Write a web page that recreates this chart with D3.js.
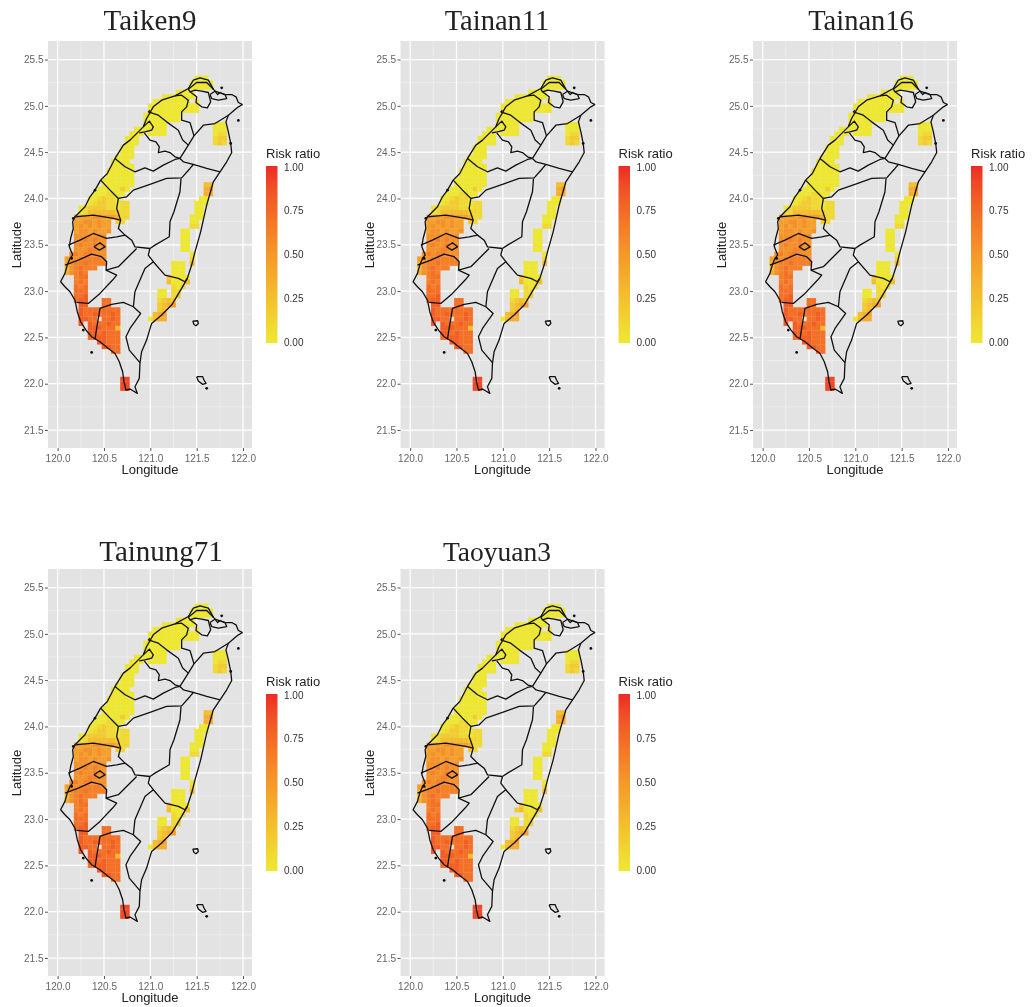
<!DOCTYPE html>
<html>
<head>
<meta charset="utf-8">
<style>
  html, body { margin: 0; padding: 0; background: #fff; }
  text { font-family: "Liberation Sans", Arial, sans-serif; }
</style>
<script src="https://cdnjs.cloudflare.com/ajax/libs/d3/7.8.5/d3.min.js"></script>
</head>
<body>
<div id="chart"></div>
<script>
// panel names
var panelNames = ["Taiken9", "Tainan11", "Tainan16", "Tainung71", "Taoyuan3"]

// axis and legend ticks
var lonTicks = [120, 120.5, 121, 121.5, 122]
var lonMinor = [120.25, 120.75, 121.25, 121.75]
var latTicks = [21.5, 22, 22.5, 23, 23.5, 24, 24.5, 25, 25.5]
var latMinor = [21.75, 22.25, 22.75, 23.25, 23.75, 24.25, 24.75, 25.25]
var riskTicks = [0, 0.25, 0.5, 0.75, 1]

// risk cells, [lat, first lon, one hex digit per 0.05 deg cell], ratio = digit * 0.09
var northRuns = [
  [25.30, 121.50, "000"], [25.25, 121.45, "00000"], [25.20, 121.45, "00000"],
  [25.15, 121.30, "0000"], [25.10, 121.15, "0000000"],
  [25.05, 121.05, "00000000"], [25.05, 121.50, "0"],
  [25.00, 121.00, "00000000000"], [24.95, 121.00, "00000000000"],
  [24.90, 120.95, "00000000"], [24.85, 120.95, "00000000"],
  [24.80, 120.95, "00000"], [24.75, 120.85, "0000000"],
  [24.70, 120.80, "000"], [24.70, 121.00, "0000"],
  [24.65, 120.75, "000"], [24.60, 120.75, "000"],
  [24.55, 120.70, "000"], [24.50, 120.70, "000"],
  [24.45, 120.65, "0000"], [24.40, 120.60, "0000"], [24.35, 120.60, "00000"],
  [24.30, 120.55, "000000"], [24.25, 120.55, "000000"],
  [24.20, 120.50, "0000000"], [24.15, 120.50, "0000000"]
]
var centralRuns = [
  [24.10, 120.45, "0000020"], [24.05, 120.40, "0001100"],
  [24.00, 120.35, "0012110"], [23.95, 120.35, "012211011"],
  [23.90, 120.25, "01222211011"], [23.85, 120.25, "01333333211"],
  [23.80, 120.20, "555566555411"],
  [23.75, 120.20, "55665655"], [23.75, 120.65, "21"],
  [23.70, 120.20, "56565655"], [23.65, 120.20, "56656556"],
  [23.60, 120.20, "6666666"], [23.55, 120.20, "6676766"],
  [23.50, 120.20, "6766766"], [23.45, 120.20, "6667766"],
  [23.40, 120.15, "67677666"], [23.35, 120.10, "566777776"],
  [23.30, 120.10, "467787777"], [23.25, 120.10, "3678777"],
  [23.20, 120.10, "46787"]
]
var southRuns = [
  [23.15, 120.20, "788"], [23.10, 120.20, "787"], [23.05, 120.20, "878"],
  [23.00, 120.20, "888"], [22.95, 120.20, "889"],
  [22.90, 120.20, "899"], [22.90, 120.50, "88"],
  [22.85, 120.25, "99"], [22.85, 120.50, "88"],
  [22.80, 120.25, "988888888"], [22.75, 120.25, "988988898"],
  [22.70, 120.25, "9988"], [22.70, 120.50, "8898"],
  [22.65, 120.25, "9"], [22.65, 120.35, "9888988"],
  [22.60, 120.35, "9998883"], [22.55, 120.35, "9989888"],
  [22.50, 120.35, "8999888"], [22.45, 120.45, "99888"],
  [22.40, 120.50, "9988"], [22.35, 120.60, "88"],
  [22.05, 120.70, "aa"], [22.00, 120.70, "aa"], [21.95, 120.70, "aa"]
]
var eastRuns = [
  [24.80, 121.70, "000"], [24.75, 121.70, "000"], [24.70, 121.70, "011"],
  [24.65, 121.70, "122"], [24.60, 121.70, "121"],
  [24.15, 121.60, "33"], [24.10, 121.60, "45"], [24.05, 121.60, "44"],
  [24.00, 121.55, "00"], [23.95, 121.50, "000"], [23.90, 121.50, "00"],
  [23.85, 121.50, "00"], [23.80, 121.45, "000"], [23.75, 121.45, "00"],
  [23.70, 121.45, "11"], [23.65, 121.35, "00"], [23.60, 121.35, "00"],
  [23.55, 121.35, "00"], [23.50, 121.35, "00"], [23.45, 121.35, "00"],
  [23.40, 121.45, "0"], [23.35, 121.45, "1"],
  [23.30, 121.25, "000"], [23.30, 121.45, "3"],
  [23.25, 121.25, "000"], [23.20, 121.25, "000"],
  [23.15, 121.20, "20000"], [23.10, 121.20, "30003"],
  [23.05, 121.25, "101"], [23.00, 121.10, "00"], [23.00, 121.25, "11"],
  [22.95, 121.10, "00"], [22.95, 121.25, "12"],
  [22.90, 121.10, "1232"], [22.85, 121.10, "2345"],
  [22.80, 121.10, "23"], [22.75, 121.05, "345"], [22.70, 121.00, "0344"]
]

// cells only some panels have
var tainan11Runs = [[24.65, 120.90, "0"], [24.60, 120.90, "0"]]
var taoyuan3Runs = [[24.65, 120.90, "0"], [24.60, 120.90, "0"], [23.10, 121.15, "2"]]

// coast and county lines, [lon, lat]
var coast = [
  [121.996,25.014],[121.950,25.036],[121.924,25.097],[121.878,25.122],[121.806,25.122],[121.752,25.144],
  [121.727,25.122],[121.680,25.180],[121.626,25.277],[121.536,25.302],[121.464,25.277],[121.410,25.187],
  [121.266,25.108],[121.122,25.061],[121.032,24.989],[120.960,24.863],[120.924,24.773],[120.781,24.630],
  [120.709,24.576],[120.619,24.432],[120.536,24.270],[120.464,24.198],[120.403,24.090],[120.349,24.018],
  [120.295,23.910],[120.223,23.838],[120.187,23.802],[120.162,23.748],[120.169,23.676],[120.140,23.568],
  [120.126,23.478],[120.162,23.389],[120.133,23.353],[120.104,23.281],[120.079,23.191],[120.032,23.101],
  [120.079,23.047],[120.133,22.993],[120.187,22.903],[120.212,22.777],[120.248,22.669],[120.306,22.579],
  [120.367,22.507],[120.457,22.453],[120.547,22.381],[120.619,22.327],[120.665,22.237],[120.701,22.130],
  [120.716,22.022],[120.737,21.932],[120.781,21.943],[120.817,21.921],[120.860,21.896],[120.834,21.968],
  [120.881,22.058],[120.888,22.219],[120.906,22.345],[120.960,22.471],[121.014,22.651],[121.122,22.741],
  [121.230,22.849],[121.338,23.029],[121.399,23.137],[121.446,23.281],[121.482,23.424],[121.543,23.640],
  [121.608,23.928],[121.644,24.054],[121.680,24.180],[121.752,24.288],[121.824,24.396],[121.878,24.496],
  [121.867,24.594],[121.842,24.719],[121.816,24.827],[121.842,24.899],[121.950,24.989],[121.996,25.014]
]
var islands = [
  [[121.457,22.676],[121.511,22.680],[121.518,22.651],[121.493,22.626],[121.471,22.640],[121.457,22.676]],
  [[121.500,22.076],[121.565,22.076],[121.579,22.040],[121.601,22.004],[121.565,21.993],[121.518,22.029],[121.500,22.076]],
  [[120.392,23.478],[120.457,23.522],[120.511,23.478],[120.450,23.442],[120.392,23.478]]
]
var counties = [
  [[121.410,25.180],[121.500,25.252],[121.608,25.252],[121.680,25.180]],
  [[121.410,25.180],[121.428,25.151],[121.500,25.097],[121.493,25.036],[121.554,24.989],[121.615,24.978],[121.651,25.043],[121.626,25.144],[121.554,25.158],[121.482,25.169],[121.428,25.151]],
  [[121.644,25.122],[121.698,25.158],[121.806,25.122],[121.824,25.079],[121.734,25.061],[121.662,25.079],[121.644,25.122]],
  [[121.266,25.108],[121.338,25.115],[121.410,25.061],[121.392,24.989],[121.338,24.935],[121.338,24.845],[121.428,24.820],[121.471,24.676]],
  [[121.842,24.899],[121.698,24.809],[121.572,24.791],[121.471,24.676],[121.410,24.576],[121.320,24.432]],
  [[121.320,24.432],[121.356,24.396],[121.464,24.367],[121.608,24.324],[121.752,24.288]],
  [[120.996,24.953],[120.978,24.935],[121.086,24.899],[121.176,24.827],[121.302,24.737],[121.349,24.630],[121.410,24.576]],
  [[120.924,24.773],[120.989,24.835],[121.032,24.773],[121.014,24.737],[120.942,24.719],[120.881,24.709]],
  [[120.935,24.709],[120.996,24.630],[121.061,24.612],[121.097,24.558],[121.086,24.496],[121.158,24.511],[121.212,24.496],[121.266,24.450],[121.320,24.432]],
  [[120.619,24.432],[120.727,24.342],[120.834,24.288],[120.942,24.331],[121.032,24.295],[121.140,24.360],[121.266,24.421],[121.320,24.432]],
  [[120.464,24.198],[120.565,24.090],[120.655,24.000]],
  [[120.655,24.000],[120.745,24.018],[120.817,24.090],[120.996,24.151],[121.176,24.216],[121.338,24.223],[121.428,24.324],[121.464,24.367]],
  [[120.655,24.000],[120.637,23.892],[120.680,23.766],[120.655,23.676],[120.727,23.604],[120.799,23.550],[120.834,23.478],[120.996,23.460]],
  [[120.996,23.460],[121.050,23.496],[121.205,23.586],[121.212,23.748],[121.255,23.856],[121.320,24.072],[121.331,24.216]],
  [[120.187,23.802],[120.385,23.820],[120.601,23.784],[120.680,23.766]],
  [[120.115,23.496],[120.241,23.550],[120.385,23.622],[120.529,23.568],[120.637,23.586],[120.727,23.604]],
  [[120.079,23.281],[120.223,23.335],[120.367,23.399],[120.475,23.371],[120.529,23.317],[120.522,23.227],[120.655,23.263],[120.852,23.460]],
  [[120.522,23.227],[120.637,23.173],[120.593,23.119],[120.457,22.975],[120.331,22.867],[120.205,22.878]],
  [[120.403,22.482],[120.421,22.597],[120.457,22.813],[120.583,22.856],[120.709,22.878],[120.817,22.831],[120.896,22.759],[120.781,22.597],[120.737,22.507],[120.773,22.363],[120.888,22.227]],
  [[120.817,22.831],[120.834,22.993],[120.942,23.245],[121.032,23.317],[120.978,23.389],[120.996,23.460]],
  [[121.032,23.317],[121.158,23.173],[121.302,23.137],[121.374,23.101],[121.399,23.137]]
]
var islets = [
  [121.950,24.842],[121.770,25.194],[121.867,24.594],[120.367,22.338],[121.608,21.950],
  [120.403,24.090],[120.169,23.784],[120.151,23.353],[120.277,22.579]
]

var width = 1032,
    height = 1007,
    dx = 352.5,
    dy = 528

// title centres, baselines and sizes differ per panel
var titleX = [150, 497, 861, 161, 497]
var titleY = [30, 30, 30, 33, 33]
var titleSize = [29, 28.5, 28.5, 29, 27.5]

var svg = d3.select("#chart")
    .append("svg")
    .attr("width", width)
    .attr("height", height)
    .style("display", "block")

var defs = svg.append("defs")

var blur = defs.append("filter")
    .attr("id", "soft")
    .attr("filterUnits", "userSpaceOnUse")
    .attr("x", 0).attr("y", 0)
    .attr("width", width).attr("height", height)
blur.append("feGaussianBlur").attr("stdDeviation", 0.4)

var color = d3.scaleLinear()
    .domain([0, 1])
    .range(["#eee733", "#ee2a24"])
    .interpolate(d3.interpolateLab)

var legendGrad = defs.append("linearGradient")
    .attr("id", "riskGrad")
    .attr("x1", 0).attr("x2", 0)
    .attr("y1", 1).attr("y2", 0)
legendGrad.selectAll("stop")
    .data(d3.range(0, 1.01, 0.1))
    .enter()
    .append("stop")
    .attr("offset", function (d) { return d })
    .attr("stop-color", function (d) { return color(d) })

// turn runs into cells
function toCells(runs) {
    var out = []
    runs.forEach(function (run) {
        run[2].split("").forEach(function (c, i) {
            out.push({ lat: run[0], lon: run[1] + i * 0.05, risk: parseInt(c, 16) * 0.09 })
        })
    })
    return out
}

var baseRuns = northRuns.concat(centralRuns, southRuns, eastRuns)
var panelRuns = [
    baseRuns,
    baseRuns.concat(tainan11Runs),
    baseRuns,
    baseRuns,
    baseRuns.concat(taoyuan3Runs)
]

var x = d3.scaleLinear().domain([119.896, 122.097]).range([48, 252])
var y = d3.scaleLinear().domain([21.306, 25.70]).range([448, 41])
var legendY = d3.scaleLinear().domain([0, 1]).range([342.5, 167])

var line = d3.line()
    .x(function (d) { return x(d[0]) })
    .y(function (d) { return y(d[1]) })

var page = svg.append("g").attr("filter", "url(#soft)")

panelNames.forEach(function (name, p) {
    var col = p % 3,
        row = Math.floor(p / 3)
    var g = page.append("g")
        .attr("transform", "translate(" + col * dx + "," + row * dy + ")")

    // background and grid
    g.append("rect")
        .attr("x", x.range()[0])
        .attr("y", y.range()[1])
        .attr("width", x.range()[1] - x.range()[0])
        .attr("height", y.range()[0] - y.range()[1])
        .attr("fill", "#e3e3e3")

    g.selectAll(".minorV").data(lonMinor).enter().append("line")
        .attr("x1", function (d) { return x(d) }).attr("x2", function (d) { return x(d) })
        .attr("y1", y.range()[0]).attr("y2", y.range()[1])
        .attr("stroke", "#f1f1f1").attr("stroke-width", 0.6)
    g.selectAll(".minorH").data(latMinor).enter().append("line")
        .attr("y1", function (d) { return y(d) }).attr("y2", function (d) { return y(d) })
        .attr("x1", x.range()[0]).attr("x2", x.range()[1])
        .attr("stroke", "#f1f1f1").attr("stroke-width", 0.6)
    g.selectAll(".majorV").data(lonTicks).enter().append("line")
        .attr("x1", function (d) { return x(d) }).attr("x2", function (d) { return x(d) })
        .attr("y1", y.range()[0]).attr("y2", y.range()[1])
        .attr("stroke", "#fff").attr("stroke-width", 1.2)
    g.selectAll(".majorH").data(latTicks).enter().append("line")
        .attr("y1", function (d) { return y(d) }).attr("y2", function (d) { return y(d) })
        .attr("x1", x.range()[0]).attr("x2", x.range()[1])
        .attr("stroke", "#fff").attr("stroke-width", 1.2)

    // risk cells
    g.selectAll(".cell").data(toCells(panelRuns[p])).enter().append("rect")
        .attr("class", "cell")
        .attr("x", function (d) { return x(d.lon - 0.025) })
        .attr("y", function (d) { return y(d.lat + 0.025) })
        .attr("width", function (d) { return x(d.lon + 0.025) - x(d.lon - 0.025) + 0.2 })
        .attr("height", function (d) { return y(d.lat - 0.025) - y(d.lat + 0.025) + 0.2 })
        .attr("fill", function (d) { return color(d.risk) })

    // outlines
    g.selectAll(".outline").data([coast].concat(islands, counties)).enter().append("path")
        .attr("d", line)
        .attr("fill", "none")
        .attr("stroke", "#111")
        .attr("stroke-width", 1.3)
        .attr("stroke-linejoin", "round")
    g.selectAll(".islet").data(islets).enter().append("circle")
        .attr("cx", function (d) { return x(d[0]) })
        .attr("cy", function (d) { return y(d[1]) })
        .attr("r", 1.4)
        .attr("fill", "#111")

    // axes
    var xAxis = g.append("g")
        .attr("transform", "translate(0," + y.range()[0] + ")")
        .call(d3.axisBottom(x).tickValues(lonTicks).tickFormat(d3.format(".1f")).tickSize(3).tickPadding(3.5))
    var yAxis = g.append("g")
        .attr("transform", "translate(" + x.range()[0] + ",0)")
        .call(d3.axisLeft(y).tickValues(latTicks).tickFormat(d3.format(".1f")).tickSize(3).tickPadding(1.5))
    ;[xAxis, yAxis].forEach(function (a) {
        a.select(".domain").remove()
        a.selectAll("line").attr("stroke", "#555")
        a.selectAll("text")
            .attr("fill", "#666")
            .style("font-size", "10px")
            .style("font-family", "'Liberation Sans', Arial, sans-serif")
    })

    g.append("text")
        .text("Longitude")
        .attr("x", 150).attr("y", 474)
        .attr("text-anchor", "middle")
        .attr("fill", "#222")
        .style("font-size", "13px")
    g.append("text")
        .text("Latitude")
        .attr("transform", "translate(21,245) rotate(-90)")
        .attr("text-anchor", "middle")
        .attr("fill", "#222")
        .style("font-size", "13px")

    // panel title
    g.append("text")
        .text(name)
        .attr("x", titleX[p] - col * dx).attr("y", titleY[p])
        .attr("text-anchor", "middle")
        .attr("fill", "#222")
        .style("font-family", "'Liberation Serif', 'Times New Roman', serif")
        .style("font-size", titleSize[p] + "px")

    // colour bar
    g.append("text")
        .text("Risk ratio")
        .attr("x", 266).attr("y", 158)
        .attr("fill", "#222")
        .style("font-size", "13px")
    g.append("rect")
        .attr("x", 266).attr("y", legendY(1) - 1)
        .attr("width", 11.5).attr("height", legendY(0) - legendY(1) + 1.5)
        .attr("fill", "url(#riskGrad)")
    g.selectAll(".riskTick").data(riskTicks).enter().append("text")
        .text(function (d) { return d3.format(".2f")(d) })
        .attr("x", 284)
        .attr("y", function (d) { return legendY(d) + 3.5 })
        .attr("fill", "#333")
        .style("font-size", "10px")
})
</script>
</body>
</html>
